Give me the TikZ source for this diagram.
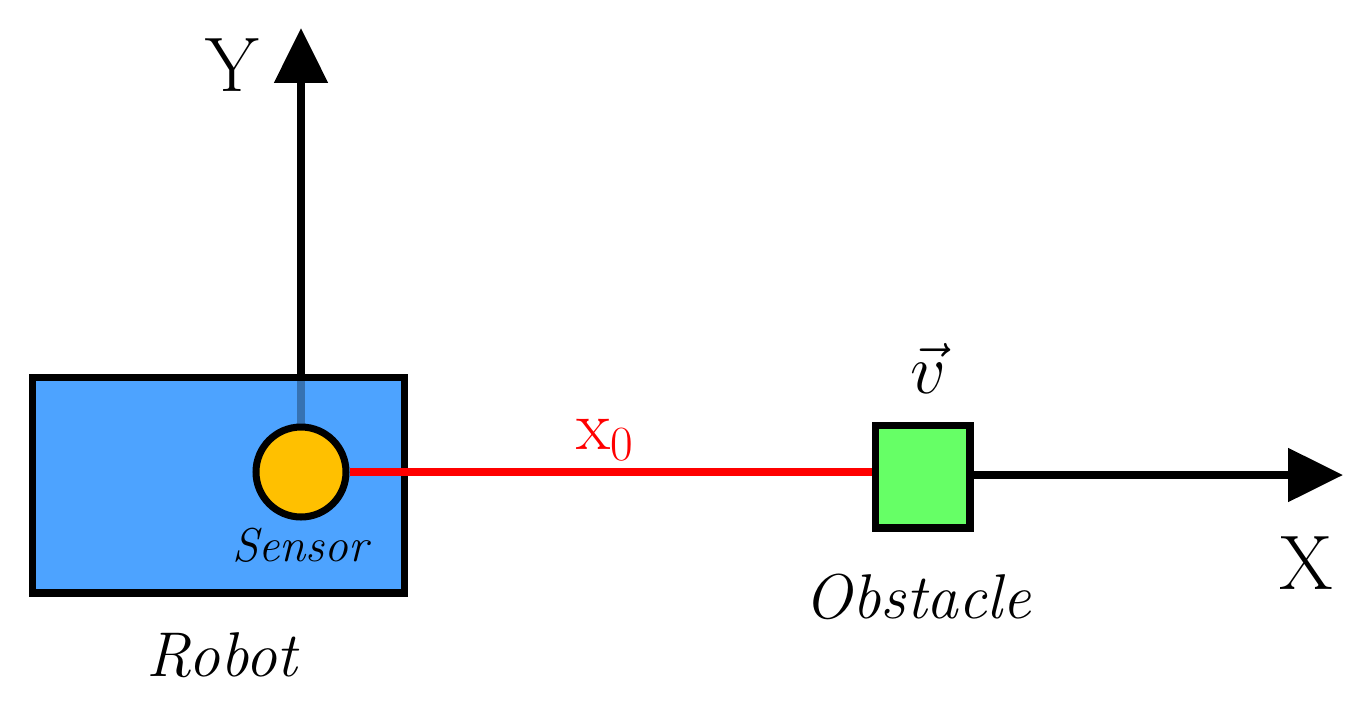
\documentclass[tikz,border=0pt]{standalone}
\usepackage{fix-cm}
\usepackage{anyfontsize}
\usetikzlibrary{arrows.meta}
\definecolor{robotblue}{HTML}{4DA3FF}
\definecolor{sensoryellow}{HTML}{FFC000}
\definecolor{obsgreen}{HTML}{66FF66}
\begin{document}
\begin{tikzpicture}[x=0.02cm,y=-0.02cm,
  thick line/.style={line width=4pt},
  axis/.style={thick line,-{Triangle[length=1.1cm,width=1.05cm]}},
  lab/.style={inner sep=0pt}]
\useasboundingbox (0,0) rectangle (1367,701);
% Y axis
\coordinate (yb) at (301,377);
\coordinate (yt) at (301,28);
\draw[axis] (yb) -- (yt);
% robot
\node[draw,thick line,fill=robotblue,minimum width=7.46cm,minimum height=4.32cm,inner sep=0pt] (robot) at (218.5,485) {};
\draw[line width=4pt,draw=black!30!robotblue] (301,381) -- (301,430);
% sensor
\node[circle,draw,thick line,fill=sensoryellow,minimum size=1.8cm,inner sep=0pt] (sensor) at (301,472) {};
% obstacle
\node[draw,thick line,fill=obsgreen,minimum width=1.9cm,minimum height=2.06cm,inner sep=0pt] (obs) at (922.5,476.5) {};
% red line
\draw[line width=4.5pt,red] (sensor.east) -- (obs.west |- sensor.east);
% X axis
\coordinate (xt) at (1343,475);
\draw[axis] (obs.east |- xt) -- (xt);
% labels
\node[lab,font=\fontsize{44}{50}\selectfont] (Y) at (232,65) {Y};
\node[lab,font=\fontsize{44}{50}\selectfont] (X) at (1306,563) {X};
\node[lab,font=\fontsize{36}{40}\selectfont\itshape] (rl) at (222,655) {Robot};
\node[lab,font=\fontsize{27}{30}\selectfont\itshape] (sl) at (300,545) {Sensor};
\node[lab,font=\fontsize{36}{40}\selectfont\itshape] (ol) at (918,597) {Obstacle};
\node[lab,font=\fontsize{40}{44}\selectfont,text=red] (x0) at (605,440) {$\mathrm{x}_0$};
\node[lab,font=\fontsize{40}{44}\selectfont] (v) at (928,368) {$\vec{v}$};
\end{tikzpicture}
\end{document}
